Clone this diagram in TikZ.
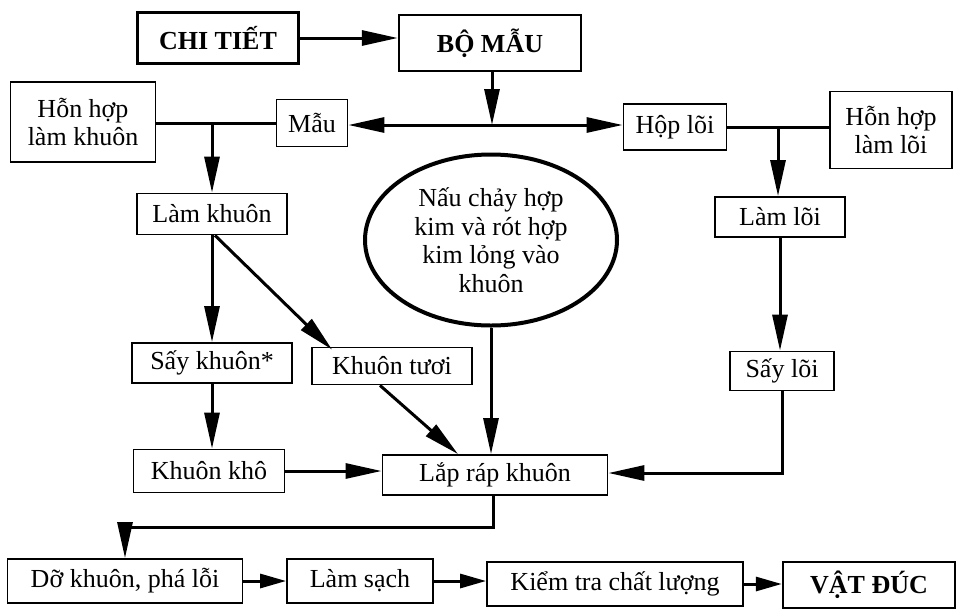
\documentclass[tikz,border=0pt]{standalone}
\usepackage{fontspec}
\setmainfont{Liberation Serif}
\usetikzlibrary{arrows.meta, positioning, shapes.geometric}
\tikzset{
  hop/.style={draw, line width=1.8pt, inner sep=0pt, align=center, font=\fontsize{26}{28}\selectfont},
  hopdam/.style={hop, line width=2.4pt, font=\fontsize{26}{29}\selectfont\bfseries},
  muiten/.style={line width=3pt, -{Triangle[length=36pt,width=15pt]}},
  muingan/.style={line width=3pt, -{Triangle[length=26pt,width=14pt]}},
  noi/.style={line width=3pt}
}

\begin{document}
\begin{tikzpicture}[x=1pt,y=-1pt]
\useasboundingbox (0,0) rectangle (961,611);

\node[hopdam, minimum width=161pt, minimum height=51pt] (chitiet) at (218,38) {CHI TIẾT};
\node[hopdam, minimum width=182pt, minimum height=56pt] (bomau) at (490,43) {BỘ MẪU};

\node[hop, minimum width=145pt, minimum height=80pt] (honhopkhuon) at (83,122) {Hỗn hợp\\làm khuôn};
\node[hop, minimum width=71pt, minimum height=47pt] (mau) at (312,123) {Mẫu};
\node[hop, minimum width=103pt, minimum height=46pt] (hoploi) at (675,127) {Hộp lõi};
\node[hop, minimum width=122pt, minimum height=77pt] (honhoploi) at (891,130) {Hỗn hợp\\làm lõi};

\node[hop, minimum width=150pt, minimum height=41pt] (lamkhuon) at (212,214) {Làm khuôn};
\node[hop, minimum width=130pt, minimum height=40pt] (lamloi) at (780,217) {Làm lõi};
\node[ellipse, draw, line width=4pt, inner sep=0pt, align=center,
      font=\fontsize{26}{28.5}\selectfont,
      minimum width=252pt, minimum height=171pt] (nauchay) at (491,240)
      {Nấu chảy hợp\\kim và rót hợp\\kim lỏng vào\\khuôn};

\node[hop, minimum width=160pt, minimum height=40pt] (saykhuon) at (212,363) {Sấy khuôn*};
\node[hop, minimum width=160pt, minimum height=37pt] (khuontuoi) at (392,366) {Khuôn tươi};
\node[hop, minimum width=104pt, minimum height=39pt] (sayloi) at (782,371) {Sấy lõi};

\node[hop, minimum width=151pt, minimum height=43pt] (khuonkho) at (209,471) {Khuôn khô};
\node[hop, minimum width=225pt, minimum height=40pt] (laprap) at (495,475) {Lắp ráp khuôn};

\node[hop, minimum width=235pt, minimum height=44pt] (dokhuon) at (125,581) {Dỡ khuôn, phá lỗi};
\node[hop, minimum width=146pt, minimum height=44pt] (lamsach) at (360,581) {Làm sạch};
\node[hop, minimum width=256pt, minimum height=44pt] (kiemtra) at (615,584) {Kiểm tra chất lượng};
\node[hopdam, minimum width=172pt, minimum height=46pt] (vatduc) at (869,585) {VẬT ĐÚC};

\coordinate (jm) at (492,125);
\coordinate (jk) at (212,123);
\coordinate (jl) at (778,127);
\coordinate (gap) at (125,527);

\draw[muiten] (chitiet.east) -- (chitiet.east -| bomau.west);
\draw[muiten] (bomau.south -| jm) -- (jm);
\draw[muiten] (jm) -- (jm -| mau.east);
\draw[muiten] (jm) -- (jm -| hoploi.west);
\draw[noi] (honhopkhuon.east |- jk) -- (jk -| mau.west);
\draw[muiten] (jk) -- (lamkhuon.north);
\draw[noi] (hoploi.east |- jl) -- (jl -| honhoploi.west);
\draw[muiten] (jl) -- (jl |- lamloi.north);

\draw[muiten] (lamkhuon.south) -- (saykhuon.north);
\draw[muiten] ([xshift=3pt]lamkhuon.south) -- ([xshift=21pt,yshift=-3pt]khuontuoi.north west);
\draw[muiten] (saykhuon.south) -- (saykhuon.south |- khuonkho.north);
\draw[muiten] (khuonkho.east) -- (khuonkho.east -| laprap.west);
\draw[muiten] ([xshift=-12pt]khuontuoi.south) -- ([xshift=-37pt]laprap.north);
\draw[muiten] (nauchay.south) -- (nauchay.south |- laprap.north);
\draw[muiten] (lamloi.south) -- (lamloi.south |- sayloi.north);
\draw[muiten] (sayloi.south) |- ([yshift=2pt]laprap.east);

\draw[muiten] ([xshift=-2pt]laprap.south) |- (gap) -- (dokhuon.north);
\draw[muingan] (dokhuon.east) -- (dokhuon.east -| lamsach.west);
\draw[muingan] (lamsach.east) -- (lamsach.east -| kiemtra.west);
\draw[muingan] (kiemtra.east) -- (kiemtra.east -| vatduc.west);
\end{tikzpicture}
\end{document}
